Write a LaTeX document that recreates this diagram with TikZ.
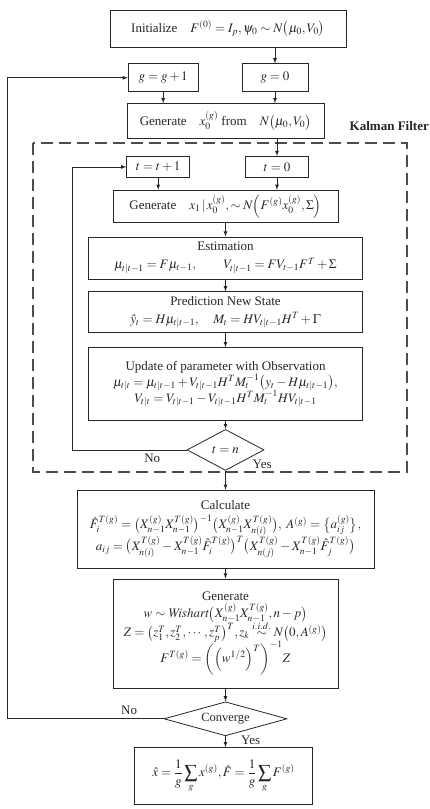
\documentclass[tikz,border=0pt]{standalone}
\usepackage{amsmath}
\usepackage{mathptmx}
\usepackage{fontspec}
\setmainfont{Liberation Serif}
\usepackage{tikz}
\usetikzlibrary{shapes,positioning}

\begin{document}
\begin{tikzpicture}[x=1pt, y=-1pt, >=latex, color=black!85, line width=0.8pt,
  font=\fontsize{13}{18}\selectfont,
  stepbox/.style={draw, align=center, inner sep=1pt},
  check/.style={draw, diamond, inner sep=0pt},
  kfframe/.style={dash pattern=on 12pt off 6pt, line width=1.6pt, black!70}]
\useasboundingbox (0,0) rectangle (430,809);
\node[stepbox, minimum width=236pt, minimum height=37pt](init) at (228,28.5){Initialize\quad $F^{(0)}=I_p,\psi_0\sim N\bigl(\mu_0,V_0\bigr)$};
\node[stepbox, minimum width=66pt, minimum height=28pt, below = 16pt of init, xshift = 47pt](gzero){$g=0$};
\node[stepbox, minimum width=70pt, minimum height=28pt, left = 43pt of gzero](gplus){$g=g+1$};
\node[stepbox, minimum width=197pt, minimum height=35pt, below = 11pt of gzero, xshift = -49.5pt](genx0){Generate\quad $x_0^{(g)}$ from\quad $N\bigl(\mu_0,V_0\bigr)$};
%kalman filter
\node[stepbox, minimum width=63pt, minimum height=21pt, below = 17pt of genx0, xshift = 51.5pt](tzero){$t=0$};
\node[stepbox, minimum width=63pt, minimum height=21pt, left = 55pt of tzero](tplus){$t=t+1$};
\node[stepbox, minimum width=225pt, minimum height=32pt, below = 12pt of tzero, xshift = -51.5pt](genx1){Generate\quad $x_1\,|\,x_0^{(g)},\sim N\Bigl(F^{(g)}x_0^{(g)},\Sigma\Bigr)$};
\node[stepbox, minimum width=274pt, minimum height=42pt, below = 14pt of genx1](est){Estimation\\ $\mu_{t|t-1}=F\mu_{t-1},\qquad V_{t|t-1}=FV_{t-1}F^T+\Sigma$};
\node[stepbox, minimum width=274pt, minimum height=41pt, below = 12pt of est](pred){Prediction New State\\ $\hat{y}_t=H\mu_{t|t-1},\quad M_t=HV_{t|t-1}H^T+\Gamma$};
\node[stepbox, minimum width=274pt, minimum height=73pt, below = 14pt of pred](upd){Update of parameter with Observation\\[-2pt] $\mu_{t|t}=\mu_{t|t-1}+V_{t|t-1}H^TM_t^{-1}\bigl(y_t-H\mu_{t|t-1}\bigr),$\\[-2pt] $V_{t|t}=V_{t|t-1}-V_{t|t-1}H^TM_t^{-1}HV_{t|t-1}$};
\node[check, aspect=2, minimum width=77pt, minimum height=41pt, below = 8pt of upd](tn){$t=n$};
\draw[kfframe] (33,143) rectangle (407,472);
\node[anchor=west, font=\fontsize{13}{15}\selectfont\bfseries](kf) at (346,126){Kalman Filter};
%sampling
\node[stepbox, minimum width=297pt, minimum height=78pt, below = 19pt of tn](calc){Calculate\\[1pt] $\hat{F}_i^{T(g)}=\bigl(X_{n-1}^{(g)}X_{n-1}^{T(g)}\bigr)^{-1}\bigl(X_{n-1}^{(g)}X_{n(i)}^{T(g)}\bigr),\ A^{(g)}=\bigl\{a_{ij}^{(g)}\bigr\},$\\[-1pt] $a_{ij}=\bigl(X_{n(i)}^{T(g)}-X_{n-1}^{T(g)}\hat{F}_i^{T(g)}\bigr)^T\bigl(X_{n(j)}^{T(g)}-X_{n-1}^{T(g)}\hat{F}_j^{T(g)}\bigr)$};
\node[stepbox, minimum width=225pt, minimum height=109pt, below = 10pt of calc](gen2){Generate\\[-1pt] $w\sim \mathit{Wishart}\bigl(X_{n-1}^{(g)}X_{n-1}^{T(g)},n-p\bigr)$\\[-2pt] $Z=\bigl(z_1^T,z_2^T,\cdots,z_p^T\bigr)^T,z_k\overset{i.i.d.}{\sim}N\bigl(0,A^{(g)}\bigr)$\\[-2pt] $F^{T(g)}=\biggl(\Bigl(w^{1/2}\Bigr)^T\biggr)^{-1}Z$};
\node[check, aspect=3.6, minimum width=123pt, minimum height=34pt, below = 13pt of gen2, font=\fontsize{12.5}{15}\selectfont](conv){Converge};
\node[stepbox, minimum width=178pt, minimum height=57pt, below = 11pt of conv, xshift = -2pt](final){$\hat{x}=\dfrac{1}{g}\displaystyle\sum_{g}x^{(g)},\hat{F}=\dfrac{1}{g}\displaystyle\sum_{g}F^{(g)}$};
%path
\coordinate (outerx) at (7,0);
\coordinate (innerx) at (72,0);
\path[draw, ->](init.south -| gzero.north)--(gzero.north);
\path[draw, ->](gplus.south)--(gplus.south |- genx0.north);
\path[draw, ->](gzero.south)--(gzero.south |- genx0.north);
\path[draw, ->](genx0.south -| tzero.north)--(tzero.north);
\path[draw, ->](tplus.south)--(tplus.south |- genx1.north);
\path[draw, ->](tzero.south)--(tzero.south |- genx1.north);
\path[draw, ->](genx1)--(est);
\path[draw, ->](est)--(pred);
\path[draw, ->](pred)--(upd);
\path[draw, ->](upd)--(tn);
\path[draw, ->](tn)--(calc);
\path[draw, ->](calc)--(gen2);
\path[draw, ->](gen2)--(conv);
\path[draw, ->](conv.south)--(conv.south |- final.north);
%loops
\path[draw, ->](tn.west)--node[pos=0.3, below]{No}(tn.west -| innerx)|-(tplus.west);
\node[right, xshift=4pt, yshift=-4pt](tnyes) at (tn.south east){Yes};
\path[draw, ->](conv.west)--node[pos=0.22, above]{No}(conv.west -| outerx)|-(gplus.west);
\node[right, xshift=12pt, yshift=-4pt](convyes) at (conv.south){Yes};
\end{tikzpicture}
\end{document}
